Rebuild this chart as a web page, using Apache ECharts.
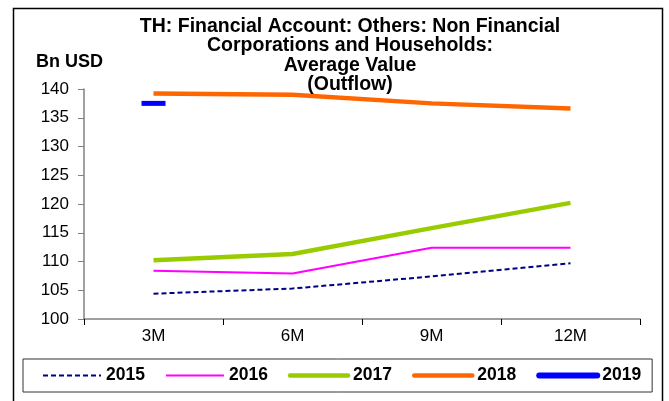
<!DOCTYPE html>
<html>
<head>
<meta charset="utf-8">
<script src="https://cdn.jsdelivr.net/npm/echarts@6/dist/echarts.min.js"></script>
<style>
  html, body { margin: 0; padding: 0; background: #fff; }
  #chart { width: 669px; height: 401px; }
</style>
</head>
<body>
<div id="chart"></div>
<script>
// Horizons (categories) and yearly average outflow values, Bn USD
const horizons = ['3M', '6M', '9M', '12M'];
const years = ['2015', '2016', '2017', '2018', '2019'];
const v2015 = [104.4, 105.3, 107.4, 109.7];
const v2016 = [108.4, 107.9, 112.4, 112.4];
const v2017 = [110.2, 111.3, 115.8, 120.2];
const v2018 = [139.2, 139.0, 137.5, 136.6];
const v2019 = [137.5, null, null, null];
const yTicks = [100, 105, 110, 115, 120, 125, 130, 135, 140];

const FONT = 'Liberation Sans, Arial, sans-serif';

const chart = echarts.init(document.getElementById('chart'), null, { renderer: 'canvas' });

chart.setOption({
  animation: false,
  backgroundColor: '#fff',
  title: {
    text: 'TH: Financial Account: Others: Non Financial\nCorporations and Households:\nAverage Value\n(Outflow)',
    left: 345,
    textAlign: 'center',
    top: 12,
    textStyle: { fontFamily: FONT, fontSize: 19.5, fontWeight: 'bold', color: '#000', lineHeight: 19.3 }
  },
  graphic: [
    {
      type: 'rect', silent: true, z: -1,
      shape: { x: 13.5, y: 8.5, width: 649, height: 420 },
      style: { fill: 'none', stroke: '#000', lineWidth: 1.5 }
    },
    {
      type: 'text', left: 36, top: 53,
      style: { text: 'Bn USD', font: 'bold 18px ' + FONT, fill: '#000' }
    }
  ],
  legend: {
    data: [
      { name: '2015', lineStyle: { width: 2 } },
      { name: '2016', lineStyle: { width: 2 } },
      { name: '2017', lineStyle: { width: 4.5, cap: 'round' } },
      { name: '2018', lineStyle: { width: 4.5, cap: 'round' } },
      { name: '2019', lineStyle: { width: 6, cap: 'round' } }
    ],
    left: 23,
    top: 359,
    padding: [7, 11, 7, 19],
    itemWidth: 58,
    itemHeight: 14,
    itemGap: 20,
    borderColor: '#333',
    borderWidth: 1,
    itemStyle: { opacity: 0 },
    textStyle: { fontFamily: FONT, fontSize: 17.5, fontWeight: 'bold', color: '#000', lineHeight: 19 }
  },
  grid: { left: 84, right: 29, top: 89, bottom: 82, containLabel: false },
  xAxis: {
    type: 'category',
    data: horizons,
    boundaryGap: true,
    axisLine: { lineStyle: { color: '#808080', width: 1.5 } },
    axisTick: { show: true, alignWithLabel: false, length: 6, lineStyle: { color: '#000', width: 1 } },
    axisLabel: { fontFamily: FONT, fontSize: 17, color: '#000', margin: 9 },
    splitLine: { show: false }
  },
  yAxis: {
    type: 'value',
    min: yTicks[0],
    max: yTicks[yTicks.length - 1],
    interval: yTicks[1] - yTicks[0],
    axisLine: { show: true, lineStyle: { color: '#808080', width: 1.5 } },
    axisTick: { show: true, length: 6, lineStyle: { color: '#808080', width: 1 } },
    axisLabel: { fontFamily: FONT, fontSize: 17, color: '#000', margin: 15 },
    splitLine: { show: false }
  },
  series: [
    {
      name: '2015', type: 'line', data: v2015, symbol: 'none',
      lineStyle: { color: '#000080', width: 2, type: [5, 3] },
      itemStyle: { color: '#000080' }
    },
    {
      name: '2016', type: 'line', data: v2016, symbol: 'none',
      lineStyle: { color: '#ff00ff', width: 2 },
      itemStyle: { color: '#ff00ff' }
    },
    {
      name: '2017', type: 'line', data: v2017, symbol: 'none',
      lineStyle: { color: '#99cc00', width: 4.5 },
      itemStyle: { color: '#99cc00' }
    },
    {
      name: '2018', type: 'line', data: v2018, symbol: 'none',
      lineStyle: { color: '#ff6600', width: 4.5 },
      itemStyle: { color: '#ff6600' }
    },
    {
      name: '2019', type: 'line', data: v2019,
      symbol: 'rect', symbolSize: [24, 5], showSymbol: true,
      lineStyle: { color: '#0000ff', width: 6 },
      itemStyle: { color: '#0000ff' }
    }
  ]
});
</script>
</body>
</html>
